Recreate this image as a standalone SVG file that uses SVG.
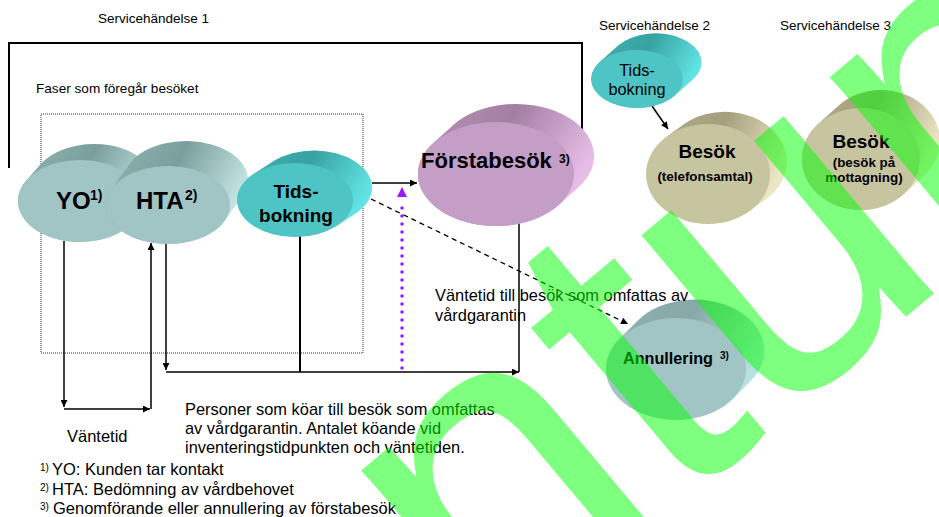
<svg xmlns="http://www.w3.org/2000/svg" width="939" height="517" viewBox="0 0 939 517">
<style>
text{font-family:"Liberation Sans",Arial,sans-serif;fill:#000}
.b{font-weight:bold}
.m{text-anchor:middle}
.ln{fill:none;stroke:#000;stroke-width:1.5}
.fT{fill:#a0c5c4}.fC{fill:#4fc4c5}.fP{fill:#c49ec6}.fK{fill:#c7c59f}
</style>
<defs>
<linearGradient id="gT" x1="0" y1="0" x2="1" y2="0.4"><stop offset="0" stop-color="#8fb6b3"/><stop offset="0.5" stop-color="#7b9f9c"/><stop offset="1" stop-color="#c4e6e4"/></linearGradient>
<linearGradient id="gC" x1="0" y1="0" x2="1" y2="0.4"><stop offset="0" stop-color="#45b3b3"/><stop offset="0.5" stop-color="#38a2a2"/><stop offset="1" stop-color="#62e4e4"/></linearGradient>
<linearGradient id="gP" x1="0" y1="0" x2="1" y2="0.4"><stop offset="0" stop-color="#b893b8"/><stop offset="0.5" stop-color="#a47fa4"/><stop offset="1" stop-color="#e6bde6"/></linearGradient>
<linearGradient id="gK" x1="0" y1="0" x2="1" y2="0.4"><stop offset="0" stop-color="#b3ad8a"/><stop offset="0.5" stop-color="#a59f7d"/><stop offset="1" stop-color="#ebe6c3"/></linearGradient>
<linearGradient id="gA" x1="0" y1="0" x2="1" y2="0.4"><stop offset="0" stop-color="#8fb4b2"/><stop offset="0.5" stop-color="#86a8a6"/><stop offset="1" stop-color="#b8e2e1"/></linearGradient>
<marker id="ah" viewBox="0 0 10 10" refX="10" refY="5" markerUnits="userSpaceOnUse" markerWidth="8" markerHeight="7" orient="auto"><path d="M0,0 L10,5 L0,10 z" fill="#000"/></marker>
<marker id="ap" viewBox="0 0 10 10" refX="10" refY="5" markerUnits="userSpaceOnUse" markerWidth="10" markerHeight="10" orient="auto"><path d="M0,0 L10,5 L0,10 z" fill="#9b19f5"/></marker>
</defs>

<rect width="939" height="517" fill="#fff"/>

<g id="labels">
<text x="98" y="23" font-size="13.5">Servicehändelse 1</text>
<text x="599" y="30" font-size="13.5">Servicehändelse 2</text>
<text x="780" y="30" font-size="13.5">Servicehändelse 3</text>
<text x="36" y="93" font-size="13.6">Faser som föregår besöket</text>
</g>

<g id="frames">
<polyline points="9,168 9,43 582,43 582,140" fill="none" stroke="#000" stroke-width="2"/>
<rect x="41" y="114" width="322" height="239" fill="none" stroke="#333" stroke-width="1" stroke-dasharray="1 1"/>
</g>

<g id="connectors">
<line class="ln" x1="64" y1="241" x2="64" y2="407" marker-end="url(#ah)"/>
<line class="ln" x1="64" y1="409" x2="150" y2="409" marker-end="url(#ah)"/>
<line class="ln" x1="151" y1="409" x2="151" y2="243" marker-end="url(#ah)"/>
<line class="ln" x1="166" y1="242" x2="166" y2="370" marker-end="url(#ah)"/>
<line class="ln" x1="166" y1="372" x2="519" y2="372" stroke="#333" marker-end="url(#ah)"/>
<line class="ln" x1="519" y1="372" x2="519" y2="209" marker-end="url(#ah)"/>
<line x1="300" y1="236" x2="300" y2="372" stroke="#000" stroke-width="2"/>
<line class="ln" x1="372" y1="183" x2="417" y2="183" marker-end="url(#ah)"/>
<line x1="371" y1="199" x2="628" y2="324" stroke="#000" stroke-width="1.3" stroke-dasharray="5 4" marker-end="url(#ah)"/>
<line x1="402" y1="368" x2="402" y2="200" stroke="#9b19f5" stroke-width="3.5" stroke-linecap="round" stroke-dasharray="0 8"/>
<line x1="402" y1="198" x2="402" y2="187" stroke="#9b19f5" stroke-width="0.1" marker-end="url(#ap)"/>
<line class="ln" x1="652" y1="106" x2="668" y2="129" marker-end="url(#ah)"/>
</g>

<g id="yo">
<path fill="url(#gT)" d="M40.3,164.5 A62,41 0 0 1 147.7,205.5 L133.7,221.5 A62,41 0 0 1 26.3,180.5 Z"/>
<ellipse class="fT" cx="80" cy="201" rx="62" ry="41"/>
<text class="b" x="56" y="209" font-size="24">YO</text>
<text class="b" x="90" y="200" font-size="14">1)</text>
</g>

<g id="hta">
<path fill="url(#gT)" d="M129.5,163.9 A62,39 0 0 1 242.5,196.1 L224.5,221.1 A62,39 0 0 1 111.5,188.9 Z"/>
<ellipse class="fT" cx="168" cy="205" rx="62" ry="39"/>
<text class="b" x="136" y="209" font-size="24">HTA</text>
<text class="b" x="185" y="200" font-size="14">2)</text>
</g>

<g id="tidsbokning1">
<path fill="url(#gC)" d="M273.6,161.1 A58,37 0 0 1 356.4,212.9 L336.4,225.9 A58,37 0 0 1 253.6,174.1 Z"/>
<ellipse class="fC" cx="295" cy="200" rx="58" ry="37"/>
<text class="b m" x="296" y="198" font-size="19">Tids-</text>
<text class="b m" x="296" y="222" font-size="19">bokning</text>
</g>

<g id="forstabesok">
<path fill="url(#gP)" d="M453.3,125 A78,52 0 0 1 578.7,187 L558.7,205 A78,52 0 0 1 433.3,143 Z"/>
<ellipse class="fP" cx="496" cy="174" rx="78" ry="52"/>
<text class="b" x="421" y="168" font-size="22">Förstabesök</text>
<text class="b" x="559" y="163" font-size="12">3)</text>
</g>

<g id="tidsbokning2">
<path fill="url(#gC)" d="M618.4,45.3 A46,29 0 0 1 693.6,78.7 L674.6,95.7 A46,29 0 0 1 599.4,62.3 Z"/>
<ellipse class="fC" cx="637" cy="79" rx="46" ry="29"/>
<text class="m" x="637" y="76" font-size="16.3">Tids-</text>
<text class="m" x="637" y="95" font-size="16.3">bokning</text>
</g>

<g id="besok1">
<path fill="url(#gK)" d="M684.6,123.8 A62,50 0 0 1 767.4,198.2 L749.4,211.2 A62,50 0 0 1 666.6,136.8 Z"/>
<ellipse class="fK" cx="708" cy="174" rx="62" ry="50"/>
<text class="b m" x="707" y="158" font-size="19">Besök</text>
<text class="b m" x="705" y="181" font-size="13.4">(telefonsamtal)</text>
</g>

<g id="besok2">
<path fill="url(#gK)" d="M838.4,105.7 A59,51 0 0 1 923.6,176.3 L903.6,194.3 A59,51 0 0 1 818.4,123.7 Z"/>
<ellipse class="fK" cx="861" cy="159" rx="59" ry="51"/>
<text class="b m" x="861" y="148" font-size="19">Besök</text>
<text class="b m" x="864" y="167" font-size="13.4">(besök på</text>
<text class="b m" x="864" y="182" font-size="13.4">mottagning)</text>
</g>

<g id="annullering">
<path fill="url(#gA)" d="M638.4,320 A70,51 0 0 1 751.6,380 L732.6,399 A70,51 0 0 1 619.4,339 Z"/>
<ellipse class="fT" cx="676" cy="369" rx="70" ry="51"/>
<text class="b" x="623" y="364" font-size="16.2">Annullering</text>
<text class="b" x="720" y="359" font-size="10">3)</text>
</g>

<g id="texts">
<text x="435" y="301" font-size="16.4">Väntetid till besök som omfattas av</text>
<text x="435" y="321" font-size="16.4">vårdgarantin</text>
<text x="67" y="442" font-size="16.5">Väntetid</text>
<text x="185" y="415" font-size="16.4">Personer som köar till besök som omfattas</text>
<text x="185" y="434" font-size="16.4">av vårdgarantin. Antalet köande vid</text>
<text x="185" y="453" font-size="16.4">inventeringstidpunkten och väntetiden.</text>
<text x="40" y="471" font-size="10">1)</text>
<text x="52" y="475" font-size="16.5">YO: Kunden tar kontakt</text>
<text x="40" y="491" font-size="10">2)</text>
<text x="52" y="495" font-size="16.5">HTA: Bedömning av vårdbehovet</text>
<text x="40" y="510" font-size="10">3)</text>
<text x="53" y="514" font-size="16.5">Genomförande eller annullering av förstabesök</text>
</g>

<g id="watermark">
<text transform="translate(-385,1400) rotate(-40)" x="894.8" y="0" font-size="440" style="fill:#00ff00;fill-opacity:0.5">entum</text>
</g>
</svg>
